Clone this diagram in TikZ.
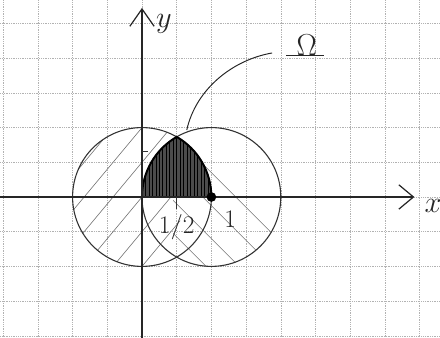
\documentclass[tikz,border=0pt]{standalone}
\usetikzlibrary{arrows.meta}
\begin{document}
\begin{tikzpicture}[x=1cm,y=1cm,
  gridline/.style={gray!60, line width=0.45pt, densely dotted},
  axisline/.style={line width=1.4pt, black!85},
  circ/.style={line width=0.9pt, black!80},
  hatchline/.style={line width=0.5pt, black!55},
  omegafill/.style={line width=0.6pt, black},
  lab/.style={inner sep=0pt, black!85},
  leader/.style={line width=0.8pt, black!85},
  tickmark/.style={line width=0.7pt, black!80}]
\useasboundingbox (-4.092,-4.063) rectangle (8.588,5.677);
\clip (-4.092,-4.063) rectangle (8.588,5.677);
% grid paper
\draw[gridline] (-5,-5) grid (9,6);
% key points
\coordinate (O) at (0,0);
\coordinate (C2) at (2,0);
\coordinate (P) at (1,{sqrt(3)});
% hatching of the two discs
\begin{scope}
  \clip (O) circle (2);
  \clip (-3,-3) rectangle (1.1,3);
  \foreach \b in {-3.0,-2.0,...,3.0} \draw[hatchline] (-3,{-3.6+\b}) -- (3,{3.6+\b});
\end{scope}
\begin{scope}
  \clip (C2) circle (2);
  \clip (0.9,-3) rectangle (5,3);
  \foreach \b in {-1.0,-0.05,...,5.5} \draw[hatchline] (-1,{1+\b-2}) -- (5,{-5+\b-2});
\end{scope}
% circles
\draw[circ] (O) circle (2);
\draw[circ] (C2) circle (2);
% region Omega
\fill[black!70] (O) arc[start angle=180, end angle=120, radius=2] arc[start angle=60, end angle=0, radius=2] -- cycle;
\begin{scope}
  \clip (O) arc[start angle=180, end angle=120, radius=2] arc[start angle=60, end angle=0, radius=2] -- cycle;
  \foreach \x in {0,0.1,...,2} \draw[omegafill] (\x,0) -- (\x,2);
\end{scope}
\draw[line width=1.6pt, black] (O) arc[start angle=180, end angle=120, radius=2] arc[start angle=60, end angle=0, radius=2] -- cycle;
% axes
\coordinate (xl) at (-4.2,0);
\coordinate (xr) at (7.85,0);
\coordinate (yb) at (0,-4.2);
\coordinate (yt) at (0,5.45);
\draw[axisline, -{Straight Barb[length=4.2mm, width=7mm, line width=1pt]}] (xl) -- (xr);
\draw[axisline, -{Straight Barb[length=5mm, width=7mm, line width=1pt]}] (yb) -- (yt);
% ticks
\coordinate (ty) at (0,1.3);
\coordinate (ty2) at (0.18,1.3);
\coordinate (tx) at (1,0);
\coordinate (tx2) at (1,-0.35);
\draw[tickmark] (ty) -- (ty2);
\draw[tickmark] (tx) -- (tx2);
% point (1,0)
\node[circle, fill=black, inner sep=0pt, minimum size=0.28cm] (dot) at (C2) {};
% labels
\node[lab] (ylab) at (0.63,5.0) {\fontsize{30}{30}\selectfont$y$};
\node[lab] (xlab) at (8.39,-0.25) {\fontsize{28}{28}\selectfont$x$};
\node[lab] (half) at (1.0,-0.86) {\fontsize{20}{20}\selectfont$1/2$};
\node[lab] (one) at (2.54,-0.63) {\fontsize{21}{21}\selectfont$1$};
\node[lab, anchor=base] (omega) at (4.75,4.08) {\fontsize{30}{30}\selectfont$\Omega$};
\draw[leader] ([xshift=-0.3cm]omega.base west) -- ([xshift=0.2cm]omega.base east);
% leader from Omega label to region
\coordinate (L0) at (3.75,4.15);
\coordinate (L1) at (1.29,1.93);
\draw[leader] (L0) .. controls (2.6,3.95) and (1.55,3.1) .. (L1);
\end{tikzpicture}
\end{document}
